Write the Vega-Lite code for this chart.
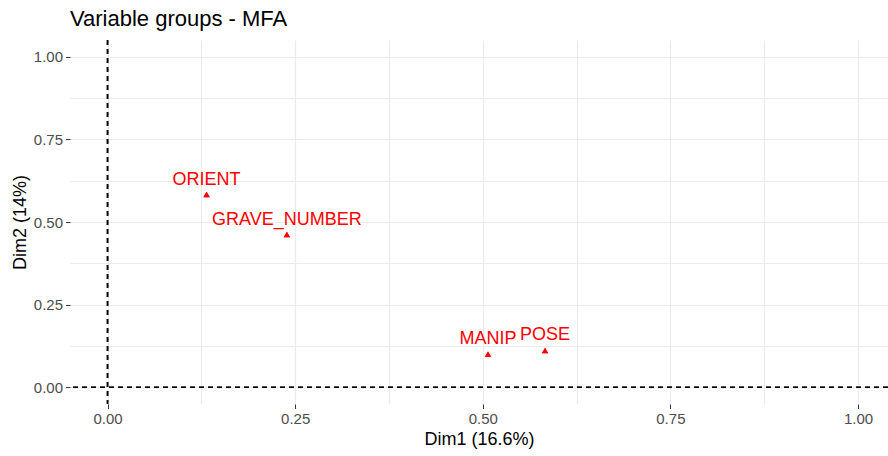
{
  "$schema": "https://vega.github.io/schema/vega-lite/v6.json",
  "autosize": "none",
  "padding": {"left": 70, "top": 40, "right": 0, "bottom": 52},
  "width": 818,
  "height": 364,
  "background": "white",
  "title": {
    "text": "Variable groups - MFA",
    "anchor": "start",
    "frame": "group",
    "fontSize": 22,
    "font": "Liberation Sans",
    "fontWeight": "normal",
    "color": "black",
    "offset": 8
  },
  "config": {
    "view": {"stroke": null},
    "axis": {
      "grid": true,
      "labelFont": "Liberation Sans",
      "titleFont": "Liberation Sans",
      "labelFontSize": 15,
      "labelColor": "#4D4D4D",
      "titleFontSize": 18,
      "titleFontWeight": "normal",
      "titleColor": "black",
      "domain": false,
      "tickSize": 4.5,
      "tickColor": "#333333",
      "gridColor": "#EBEBEB",
      "gridWidth": 1.2
    }
  },
  "data": {
    "values": [
      {"group": "ORIENT", "Dim1": 0.132, "Dim2": 0.583},
      {"group": "GRAVE_NUMBER", "Dim1": 0.239, "Dim2": 0.462},
      {"group": "MANIP", "Dim1": 0.507, "Dim2": 0.1},
      {"group": "POSE", "Dim1": 0.583, "Dim2": 0.112}
    ]
  },
  "layer": [
    {
      "mark": {"type": "point", "shape": "triangle-up", "filled": true, "size": 40, "color": "#FF0000", "opacity": 1},
      "encoding": {
        "x": {
          "field": "Dim1", "type": "quantitative",
          "scale": {"domain": [-0.05, 1.04], "nice": false, "zero": false},
          "axis": {
            "title": "Dim1 (16.6%)",
            "grid": true,
            "values": [0, 0.125, 0.25, 0.375, 0.5, 0.625, 0.75, 0.875, 1],
            "labelExpr": "datum.value * 8 % 2 == 0 ? format(datum.value, '.2f') : ''",
            "tickOpacity": {"condition": {"test": "datum.value * 8 % 2 == 0", "value": 1}, "value": 0},
            "labelPadding": 3,
            "titlePadding": 4
          }
        },
        "y": {
          "field": "Dim2", "type": "quantitative",
          "scale": {"domain": [-0.05, 1.05], "nice": false, "zero": false},
          "axis": {
            "title": "Dim2 (14%)",
            "grid": true,
            "values": [0, 0.125, 0.25, 0.375, 0.5, 0.625, 0.75, 0.875, 1],
            "labelExpr": "datum.value * 8 % 2 == 0 ? format(datum.value, '.2f') : ''",
            "tickOpacity": {"condition": {"test": "datum.value * 8 % 2 == 0", "value": 1}, "value": 0},
            "labelPadding": 3,
            "titlePadding": 4
          }
        }
      }
    },
    {
      "mark": {"type": "rule", "color": "black", "strokeDash": [5, 4], "strokeWidth": 1.3},
      "encoding": {"x": {"datum": 0, "type": "quantitative"}}
    },
    {
      "mark": {"type": "rule", "color": "black", "strokeDash": [5, 4], "strokeWidth": 1.3},
      "encoding": {"y": {"datum": 0, "type": "quantitative"}}
    },
    {
      "mark": {"type": "point", "shape": "triangle-up", "filled": true, "size": 40, "color": "#FF0000", "opacity": 1},
      "encoding": {
        "x": {"field": "Dim1", "type": "quantitative"},
        "y": {"field": "Dim2", "type": "quantitative"}
      }
    },
    {
      "mark": {"type": "text", "dy": -15, "fontSize": 18, "font": "Liberation Sans", "color": "#FF0000", "baseline": "middle", "align": "center"},
      "encoding": {
        "x": {"field": "Dim1", "type": "quantitative"},
        "y": {"field": "Dim2", "type": "quantitative"},
        "text": {"field": "group"}
      }
    }
  ]
}
